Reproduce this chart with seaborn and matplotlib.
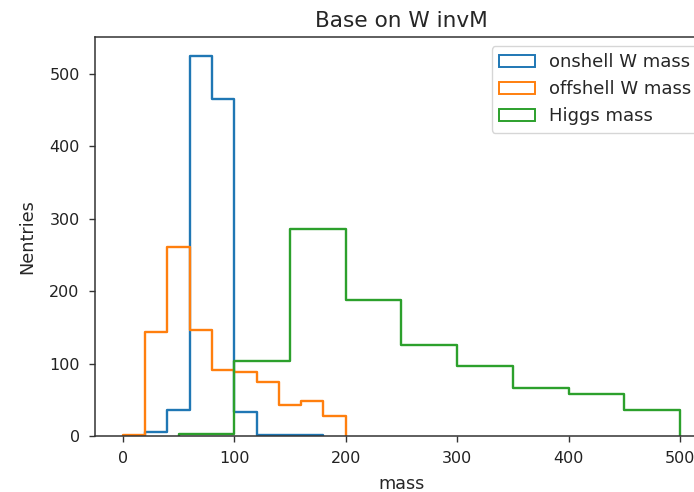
import numpy as np
import pandas as pd
import matplotlib
matplotlib.use("Agg")
import matplotlib.pyplot as plt
import seaborn as sns
from matplotlib.patches import Patch

# Bin edges and counts
onshell_edges = [20, 40, 60, 80, 100, 120, 140, 160, 180]
onshell_counts = [5, 36, 525, 466, 33, 2, 2, 1]

offshell_edges = [0, 20, 40, 60, 80, 100, 120, 140, 160, 180, 200]
offshell_counts = [2, 144, 261, 147, 91, 88, 74, 43, 48, 28]

higgs_edges = [50, 100, 150, 200, 250, 300, 350, 400, 450, 500]
higgs_counts = [3, 104, 286, 188, 125, 97, 66, 58, 36]

labels = ["onshell W mass", "offshell W mass", "Higgs mass"]
colors = ["#1f77b4", "#ff7f0e", "#2ca02c"]

sns.set_style("ticks")
plt.rcParams['font.family'] = ['DejaVu Sans']

fig = plt.figure(figsize=(6.94, 4.92), dpi=100)
ax = fig.add_axes([95/694, 56/492, (708-95)/694, (436-37)/492])

series = [(onshell_edges, onshell_counts), (offshell_edges, offshell_counts), (higgs_edges, higgs_counts)]
for (edges, counts), lab, col in zip(series, labels, colors):
    e = np.asarray(edges, float)
    df = pd.DataFrame({"mass": (e[:-1] + e[1:]) / 2, "n": np.asarray(counts, float)})
    sns.histplot(data=df, x="mass", weights="n", bins=list(edges), element="step", fill=False,
                 color=col, ax=ax, linewidth=1.7, label=lab)
    # close the step outline down to zero at both ends (like histtype="step")
    line = ax.lines[-1]
    lx, ly = line.get_data()
    lx = np.concatenate([[lx[0]], lx, [lx[-1]]])
    ly = np.concatenate([[0], ly, [0]])
    line.set_data(lx, ly)

ax.set_xlim(-25, 525)
ax.set_ylim(0, 551)
ax.set_xticks([0, 100, 200, 300, 400, 500])
ax.set_yticks([0, 100, 200, 300, 400, 500])
ax.set_xlabel("mass", fontsize=12.7, labelpad=6)
ax.set_ylabel("Nentries", fontsize=12.7, labelpad=9)
ax.set_title("Base on W invM", fontsize=15.6, pad=7)
for s in ax.spines.values():
    s.set_visible(True)
    s.set_color("#333333")
    s.set_linewidth(1.1)
ax.tick_params(direction="out", length=4.5, width=1.0, colors="#333333", labelcolor="#222222",
               labelsize=11.5, pad=6.5)

handles = [Patch(facecolor="none", edgecolor=c, linewidth=1.4) for c in colors]
ax.legend(handles, labels, loc="upper right", frameon=True, fontsize=13)

fig.savefig("out.png", dpi=100)
